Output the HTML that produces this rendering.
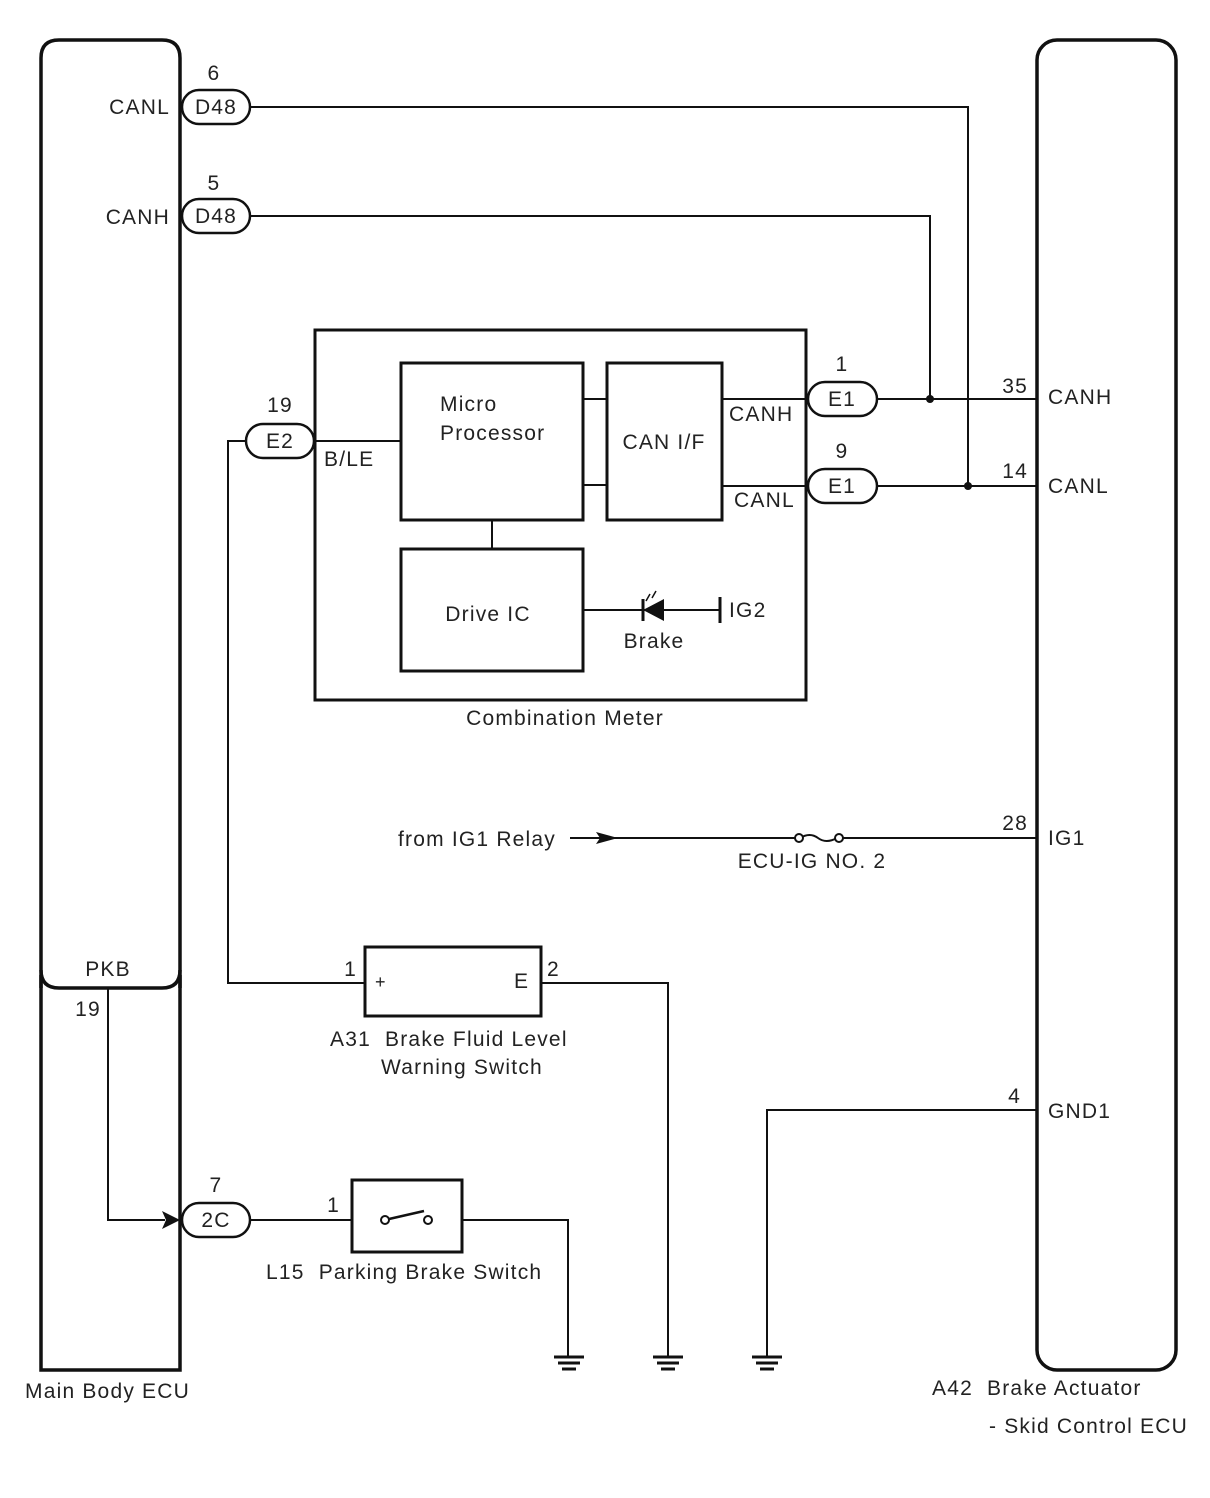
<!DOCTYPE html>
<html><head><meta charset="utf-8"><style>
html,body{margin:0;padding:0;background:#fff;}
svg{display:block;}
text{font-family:"Liberation Sans",Arial,sans-serif;font-size:21px;letter-spacing:1.2px;fill:#222;white-space:pre;}
</style></head><body>
<svg width="1210" height="1498" viewBox="0 0 1210 1498" xmlns="http://www.w3.org/2000/svg">
<g fill="none" stroke="#111" stroke-width="2">
<path d="M41,988 L41,58 Q41,40 59,40 L162,40 Q180,40 180,58 L180,988" stroke-width="3.5"/>
<path d="M41,970 Q41,988 59,988 L162,988 Q180,988 180,970" stroke-width="3.5"/>
<path d="M41,975 L41,1370 L180,1370 L180,975" stroke-width="3.5"/>
<rect x="1037" y="40" width="139" height="1330" rx="20" stroke-width="3.5"/>
<rect x="182" y="90" width="68" height="34" rx="17" stroke-width="2.5"/>
<rect x="182" y="199" width="68" height="34" rx="17" stroke-width="2.5"/>
<rect x="246" y="424" width="68" height="34" rx="17" stroke-width="2.5"/>
<rect x="808" y="382" width="69" height="34" rx="17" stroke-width="2.5"/>
<rect x="808" y="469" width="69" height="34" rx="17" stroke-width="2.5"/>
<rect x="182" y="1203" width="68" height="34" rx="17" stroke-width="2.5"/>
<path d="M250,107 H968 V486"/>
<path d="M250,216 H930 V399"/>
<path d="M877,399 H1037"/>
<path d="M877,486 H1037"/>
<rect x="315" y="330" width="491" height="370" stroke-width="3"/>
<rect x="401" y="363" width="182" height="157" stroke-width="3"/>
<rect x="607" y="363" width="115" height="157" stroke-width="3"/>
<rect x="401" y="549" width="182" height="122" stroke-width="3"/>
<path d="M583,399 H607 M583,485 H607 M722,399 H808 M722,486 H808 M492,520 V549 M314,441 H401"/>
<path d="M583,610 H720"/>
<path d="M720,597 V623" stroke-width="3"/>
<path d="M643,599 V621" stroke-width="3"/>
<path d="M650,594 L646,601 M656,591 L652,598" stroke-width="1.5"/>
<path d="M246,441 H228 V983 H365"/>
<rect x="365" y="947" width="176" height="69" stroke-width="3"/>
<path d="M541,983 H668 V1356"/>
<path d="M570,838 H795 M842,838 H1037"/>
<path d="M800,838 Q810,832 818,838 Q826,844 837,838"/>
<circle cx="799" cy="838" r="4" fill="#fff"/>
<circle cx="839" cy="838" r="4" fill="#fff"/>
<path d="M1037,1110 H767 V1356"/>
<path d="M108,988 V1220 H165"/>
<path d="M250,1220 H352 M462,1220 H568 V1356"/>
<rect x="352" y="1180" width="110" height="72" stroke-width="3"/>
<circle cx="385" cy="1220" r="4" fill="#fff"/>
<circle cx="428" cy="1220" r="4" fill="#fff"/>
<path d="M389,1219 L424,1211" stroke-width="2.5"/>
<g stroke-width="3">
<path d="M554,1357 H584 M558,1363 H580 M562,1369 H576"/>
<path d="M653,1357 H683 M657,1363 H679 M661,1369 H675"/>
<path d="M752,1357 H782 M756,1363 H778 M760,1369 H774"/>
</g>
</g>
<circle cx="930" cy="399" r="4" fill="#111"/>
<circle cx="968" cy="486" r="4" fill="#111"/>
<polygon points="643,610 664,599 664,621" fill="#111"/>
<polygon points="596,832 618,838 596,844 600,838" fill="#111"/>
<polygon points="162,1211 180,1220 162,1229 166,1220" fill="#111"/>
<text x="170" y="114" text-anchor="end">CANL</text>
<text x="170" y="224" text-anchor="end">CANH</text>
<text x="214" y="80" text-anchor="middle">6</text>
<text x="214" y="190" text-anchor="middle">5</text>
<text x="216" y="114" text-anchor="middle">D48</text>
<text x="216" y="223" text-anchor="middle">D48</text>
<text x="280" y="412" text-anchor="middle">19</text>
<text x="280" y="448" text-anchor="middle">E2</text>
<text x="842" y="371" text-anchor="middle">1</text>
<text x="842" y="406" text-anchor="middle">E1</text>
<text x="842" y="458" text-anchor="middle">9</text>
<text x="842" y="493" text-anchor="middle">E1</text>
<text x="216" y="1192" text-anchor="middle">7</text>
<text x="216" y="1227" text-anchor="middle">2C</text>
<text x="324" y="466">B/LE</text>
<text x="440" y="411">Micro</text>
<text x="440" y="440">Processor</text>
<text x="664" y="449" text-anchor="middle">CAN I/F</text>
<text x="729" y="421">CANH</text>
<text x="734" y="507">CANL</text>
<text x="488" y="621" text-anchor="middle">Drive IC</text>
<text x="729" y="617">IG2</text>
<text x="654" y="648" text-anchor="middle">Brake</text>
<text x="565" y="725" text-anchor="middle">Combination Meter</text>
<text x="1028" y="393" text-anchor="end">35</text>
<text x="1028" y="478" text-anchor="end">14</text>
<text x="1048" y="404">CANH</text>
<text x="1048" y="493">CANL</text>
<text x="398" y="846">from IG1 Relay</text>
<text x="812" y="868" text-anchor="middle">ECU-IG NO. 2</text>
<text x="1028" y="830" text-anchor="end">28</text>
<text x="1048" y="845">IG1</text>
<text x="1021" y="1103" text-anchor="end">4</text>
<text x="1048" y="1118">GND1</text>
<text x="108" y="976" text-anchor="middle">PKB</text>
<text x="88" y="1016" text-anchor="middle">19</text>
<text x="357" y="976" text-anchor="end">1</text>
<text x="375" y="988" style="font-size:18px">+</text>
<text x="514" y="988">E</text>
<text x="547" y="976">2</text>
<text x="330" y="1046">A31  Brake Fluid Level</text>
<text x="381" y="1074">Warning Switch</text>
<text x="340" y="1212" text-anchor="end">1</text>
<text x="266" y="1279">L15  Parking Brake Switch</text>
<text x="25" y="1398">Main Body ECU</text>
<text x="932" y="1395">A42  Brake Actuator</text>
<text x="989" y="1433">- Skid Control ECU</text>
</svg>
</body></html>
